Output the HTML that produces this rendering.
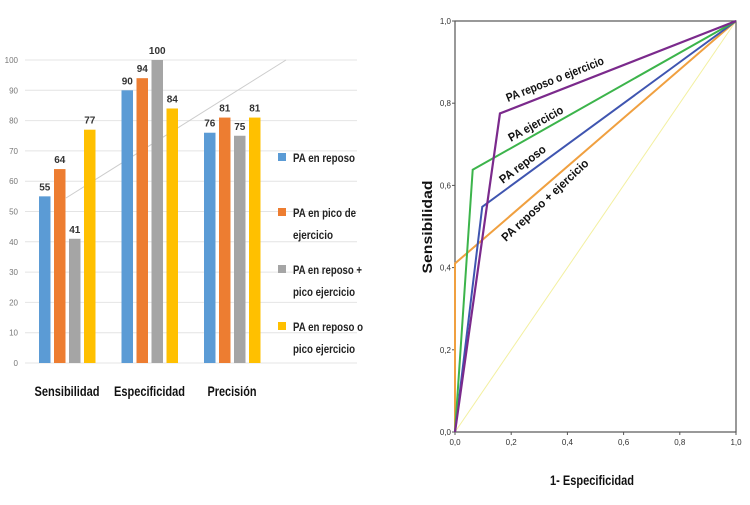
<!DOCTYPE html>
<html><head><meta charset="utf-8"><style>
body{margin:0;background:#fff;width:750px;height:500px;overflow:hidden;font-family:"Liberation Sans",sans-serif}
svg text{font-family:"Liberation Sans",sans-serif}
</style></head><body>
<svg id="s" width="750" height="500"></svg>
<script>
const categories=["Sensibilidad","Especificidad","Precisión"];
const seriesNames=["PA en reposo","PA en pico de ejercicio","PA en reposo + pico ejercicio","PA en reposo o pico ejercicio"];
const reposo=[55,90,76];
const pico=[64,94,81];
const reposoMas=[41,100,75];
const reposoO=[77,84,81];
const yTicks=[0,10,20,30,40,50,60,70,80,90,100];
const rocTicks=[0,0.2,0.4,0.6,0.8,1.0];
const rocPurpleX=[0,0.16,1],rocPurpleY=[0,0.775,1];
const rocGreenX=[0,0.063,1],rocGreenY=[0,0.638,1];
const rocBlueX=[0,0.097,1],rocBlueY=[0,0.548,1];
const rocOrangeX=[0,0,1],rocOrangeY=[0,0.41,1];
const rocRefX=[0,1],rocRefY=[0,1];

const NS="http://www.w3.org/2000/svg",svg=document.getElementById('s');
function mk(t,a,p){const e=document.createElementNS(NS,t);for(const k in a)e.setAttribute(k,a[k]);(p||svg).appendChild(e);return e;}
const colors=["#5b9bd5","#ed7d31","#a5a5a5","#ffc000"];
const series=[reposo,pico,reposoMas,reposoO];
const yB=v=>363-v*3.03;
const gx=i=>39+i*82.5;
yTicks.forEach(t=>{
 const l=mk('line',{x1:25,x2:357,y1:yB(t),y2:yB(t),stroke:"#e4e4e4","stroke-width":1});
 
 const tx=mk('text',{x:18,y:yB(t)+3,"font-size":8,fill:"#777","text-anchor":"end"});tx.textContent=t;
 
});
let d=mk('line',{x1:66,y1:198,x2:286,y2:60,stroke:"#ccc","stroke-width":1});

const catW=[65,71,49];
categories.forEach((c,i)=>{
 series.forEach((s,j)=>{
  const x=gx(i)+j*15,v=s[i];
  const r=mk('rect',{x:x,y:yB(v),width:11.5,height:v*3.03,fill:colors[j]});
  
  const t=mk('text',{x:x+5.75,y:yB(v)-6,"font-size":10,"font-weight":"bold",fill:"#333","text-anchor":"middle"});t.textContent=v;
  
 });
 const t=mk('text',{x:gx(i)+28,y:396,"font-size":14,"font-weight":"bold",fill:"#111","text-anchor":"middle",textLength:catW[i],lengthAdjust:"spacingAndGlyphs"});t.textContent=c;
 
});
const leg=[["PA en reposo"],["PA en pico de","ejercicio"],["PA en reposo +","pico ejercicio"],["PA en reposo o","pico ejercicio"]];
const legW=[[62],[63,40],[69,62],[70,62]];
const legY=[158,213,270,327];
leg.forEach((L,j)=>{
 const r=mk('rect',{x:278,y:legY[j]-5,width:8,height:8,fill:colors[j]});
 
 L.forEach((ln,k)=>{const t=mk('text',{x:293,y:legY[j]+4+k*22,"font-size":12,"font-weight":"bold",fill:"#222",textLength:legW[j][k],lengthAdjust:"spacingAndGlyphs"});t.textContent=ln;
 });
});
const rx=v=>455+v*281,ry=v=>432-v*411;
let fr=mk('rect',{x:455,y:21,width:281,height:411,fill:"none",stroke:"#555","stroke-width":1.2});

rocTicks.forEach(t=>{
 const lab=t.toFixed(1).replace('.',',');
 let a=mk('text',{x:451,y:ry(t)+3,"font-size":8,fill:"#333","text-anchor":"end"});a.textContent=lab;
 
 let b=mk('text',{x:rx(t),y:445,"font-size":8,fill:"#333","text-anchor":"middle"});b.textContent=lab;
 
 let m=mk('line',{x1:452,x2:455,y1:ry(t),y2:ry(t),stroke:"#555"});
 let n=mk('line',{x1:rx(t),x2:rx(t),y1:432,y2:435,stroke:"#555"});
});
function curve(X,Y,c,w,name){const p=mk('polyline',{points:X.map((x,i)=>rx(x)+","+ry(Y[i])).join(" "),fill:"none",stroke:c,"stroke-width":w});
 }
curve(rocRefX,rocRefY,"#f3f0a0",1,'reference-line');
curve(rocOrangeX,rocOrangeY,"#f0a040",2,'roc-reposo-mas-ejercicio');
curve(rocBlueX,rocBlueY,"#3f55b0",2,'roc-reposo');
curve(rocGreenX,rocGreenY,"#3cb44b",2,'roc-ejercicio');
curve(rocPurpleX,rocPurpleY,"#7b2a8c",2.2,'roc-reposo-o-ejercicio');
const labs=[["PA reposo o ejercicio",508,102,-21.5,104],["PA ejercicio",511,142,-29,61],["PA reposo",503,184,-37,55],["PA reposo + ejercicio",506,242,-43,114]];
labs.forEach(l=>{const t=mk('text',{x:l[1],y:l[2],"font-size":12,"font-weight":"bold",fill:"#111",transform:`rotate(${l[3]} ${l[1]} ${l[2]})`,textLength:l[4],lengthAdjust:"spacingAndGlyphs"});t.textContent=l[0];
 });
let yt=mk('text',{x:432,y:227,"font-size":14,"font-weight":"bold",fill:"#111","text-anchor":"middle",transform:"rotate(-90 432 227)",textLength:93,lengthAdjust:"spacingAndGlyphs"});yt.textContent="Sensibilidad";

let xt=mk('text',{x:592,y:485,"font-size":14,"font-weight":"bold",fill:"#111","text-anchor":"middle",textLength:84,lengthAdjust:"spacingAndGlyphs"});xt.textContent="1- Especificidad";

</script>
</body></html>
